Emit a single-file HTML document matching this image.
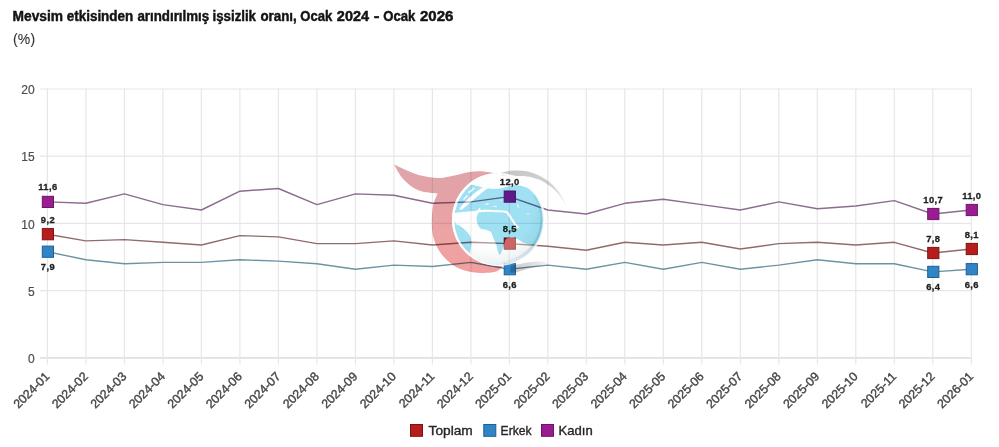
<!DOCTYPE html>
<html><head><meta charset="utf-8"><style>
html,body{margin:0;padding:0;background:#fff;}
body{width:999px;height:447px;overflow:hidden;position:relative;font-family:"Liberation Sans",sans-serif;}
.tt{font-size:14px;font-weight:bold;fill:#141414;stroke:#141414;stroke-width:0.45px;}
.tu{font-size:14px;letter-spacing:0.2px;fill:#333;stroke:#333;stroke-width:0.1px;}
svg{position:absolute;left:0;top:0;}
.yl{font-size:12px;fill:#4d4d4d;stroke:#4d4d4d;stroke-width:0.2px;text-anchor:end;}
.xl{font-size:12.3px;fill:#474747;stroke:#474747;stroke-width:0.4px;}
.dl{font-size:9.4px;letter-spacing:0.4px;font-weight:bold;fill:#1e1e1e;stroke:#1e1e1e;stroke-width:0.3px;}
.lg{font-size:12.2px;fill:#262626;stroke:#262626;stroke-width:0.35px;}
text{font-family:"Liberation Sans",sans-serif;}
</style></head><body>
<svg width="999" height="447" viewBox="0 0 999 447">
<line x1="40" y1="357.9" x2="971.8" y2="357.9" stroke="#e0e0e0" stroke-width="1.6"/>
<text x="34.6" y="363.1" class="yl">0</text>
<line x1="40" y1="290.7" x2="971.8" y2="290.7" stroke="#e7e7e7" stroke-width="1.2"/>
<text x="34.6" y="295.9" class="yl">5</text>
<line x1="40" y1="223.4" x2="971.8" y2="223.4" stroke="#e7e7e7" stroke-width="1.2"/>
<text x="34.6" y="228.6" class="yl">10</text>
<line x1="40" y1="156.2" x2="971.8" y2="156.2" stroke="#e7e7e7" stroke-width="1.2"/>
<text x="34.6" y="161.4" class="yl">15</text>
<line x1="40" y1="89.0" x2="971.8" y2="89.0" stroke="#e7e7e7" stroke-width="1.2"/>
<text x="34.6" y="94.2" class="yl">20</text>
<line x1="47.4" y1="88.5" x2="47.4" y2="364.6" stroke="#e7e7e7" stroke-width="1.2"/>
<text class="xl" text-anchor="end" transform="translate(50.3,377.2) rotate(-45)">2024-01</text>
<line x1="85.9" y1="88.5" x2="85.9" y2="364.6" stroke="#e7e7e7" stroke-width="1.2"/>
<text class="xl" text-anchor="end" transform="translate(88.8,377.2) rotate(-45)">2024-02</text>
<line x1="124.4" y1="88.5" x2="124.4" y2="364.6" stroke="#e7e7e7" stroke-width="1.2"/>
<text class="xl" text-anchor="end" transform="translate(127.3,377.2) rotate(-45)">2024-03</text>
<line x1="162.9" y1="88.5" x2="162.9" y2="364.6" stroke="#e7e7e7" stroke-width="1.2"/>
<text class="xl" text-anchor="end" transform="translate(165.8,377.2) rotate(-45)">2024-04</text>
<line x1="201.4" y1="88.5" x2="201.4" y2="364.6" stroke="#e7e7e7" stroke-width="1.2"/>
<text class="xl" text-anchor="end" transform="translate(204.3,377.2) rotate(-45)">2024-05</text>
<line x1="239.9" y1="88.5" x2="239.9" y2="364.6" stroke="#e7e7e7" stroke-width="1.2"/>
<text class="xl" text-anchor="end" transform="translate(242.8,377.2) rotate(-45)">2024-06</text>
<line x1="278.4" y1="88.5" x2="278.4" y2="364.6" stroke="#e7e7e7" stroke-width="1.2"/>
<text class="xl" text-anchor="end" transform="translate(281.3,377.2) rotate(-45)">2024-07</text>
<line x1="316.9" y1="88.5" x2="316.9" y2="364.6" stroke="#e7e7e7" stroke-width="1.2"/>
<text class="xl" text-anchor="end" transform="translate(319.8,377.2) rotate(-45)">2024-08</text>
<line x1="355.4" y1="88.5" x2="355.4" y2="364.6" stroke="#e7e7e7" stroke-width="1.2"/>
<text class="xl" text-anchor="end" transform="translate(358.3,377.2) rotate(-45)">2024-09</text>
<line x1="393.9" y1="88.5" x2="393.9" y2="364.6" stroke="#e7e7e7" stroke-width="1.2"/>
<text class="xl" text-anchor="end" transform="translate(396.8,377.2) rotate(-45)">2024-10</text>
<line x1="432.4" y1="88.5" x2="432.4" y2="364.6" stroke="#e7e7e7" stroke-width="1.2"/>
<text class="xl" text-anchor="end" transform="translate(435.3,377.2) rotate(-45)">2024-11</text>
<line x1="470.9" y1="88.5" x2="470.9" y2="364.6" stroke="#e7e7e7" stroke-width="1.2"/>
<text class="xl" text-anchor="end" transform="translate(473.8,377.2) rotate(-45)">2024-12</text>
<line x1="509.3" y1="88.5" x2="509.3" y2="364.6" stroke="#e7e7e7" stroke-width="1.2"/>
<text class="xl" text-anchor="end" transform="translate(512.2,377.2) rotate(-45)">2025-01</text>
<line x1="547.8" y1="88.5" x2="547.8" y2="364.6" stroke="#e7e7e7" stroke-width="1.2"/>
<text class="xl" text-anchor="end" transform="translate(550.7,377.2) rotate(-45)">2025-02</text>
<line x1="586.3" y1="88.5" x2="586.3" y2="364.6" stroke="#e7e7e7" stroke-width="1.2"/>
<text class="xl" text-anchor="end" transform="translate(589.2,377.2) rotate(-45)">2025-03</text>
<line x1="624.8" y1="88.5" x2="624.8" y2="364.6" stroke="#e7e7e7" stroke-width="1.2"/>
<text class="xl" text-anchor="end" transform="translate(627.7,377.2) rotate(-45)">2025-04</text>
<line x1="663.3" y1="88.5" x2="663.3" y2="364.6" stroke="#e7e7e7" stroke-width="1.2"/>
<text class="xl" text-anchor="end" transform="translate(666.2,377.2) rotate(-45)">2025-05</text>
<line x1="701.8" y1="88.5" x2="701.8" y2="364.6" stroke="#e7e7e7" stroke-width="1.2"/>
<text class="xl" text-anchor="end" transform="translate(704.7,377.2) rotate(-45)">2025-06</text>
<line x1="740.3" y1="88.5" x2="740.3" y2="364.6" stroke="#e7e7e7" stroke-width="1.2"/>
<text class="xl" text-anchor="end" transform="translate(743.2,377.2) rotate(-45)">2025-07</text>
<line x1="778.8" y1="88.5" x2="778.8" y2="364.6" stroke="#e7e7e7" stroke-width="1.2"/>
<text class="xl" text-anchor="end" transform="translate(781.7,377.2) rotate(-45)">2025-08</text>
<line x1="817.3" y1="88.5" x2="817.3" y2="364.6" stroke="#e7e7e7" stroke-width="1.2"/>
<text class="xl" text-anchor="end" transform="translate(820.2,377.2) rotate(-45)">2025-09</text>
<line x1="855.8" y1="88.5" x2="855.8" y2="364.6" stroke="#e7e7e7" stroke-width="1.2"/>
<text class="xl" text-anchor="end" transform="translate(858.7,377.2) rotate(-45)">2025-10</text>
<line x1="894.3" y1="88.5" x2="894.3" y2="364.6" stroke="#e7e7e7" stroke-width="1.2"/>
<text class="xl" text-anchor="end" transform="translate(897.2,377.2) rotate(-45)">2025-11</text>
<line x1="932.8" y1="88.5" x2="932.8" y2="364.6" stroke="#e7e7e7" stroke-width="1.2"/>
<text class="xl" text-anchor="end" transform="translate(935.7,377.2) rotate(-45)">2025-12</text>
<line x1="971.3" y1="88.5" x2="971.3" y2="364.6" stroke="#e7e7e7" stroke-width="1.2"/>
<text class="xl" text-anchor="end" transform="translate(974.2,377.2) rotate(-45)">2026-01</text>
<polyline points="47.4,201.9 85.9,203.3 124.4,193.9 162.9,204.6 201.4,210.0 239.9,191.2 278.4,188.5 316.9,204.6 355.4,193.9 393.9,195.2 432.4,203.3 470.9,201.9 509.3,196.6 547.8,210.0 586.3,214.0 624.8,203.3 663.3,199.2 701.8,204.6 740.3,210.0 778.8,201.9 817.3,208.7 855.8,206.0 894.3,200.6 932.8,214.0 971.3,210.0" fill="none" stroke="#8c6b8f" stroke-width="1.4" stroke-linejoin="round"/>
<polyline points="47.4,234.2 85.9,240.9 124.4,239.6 162.9,242.3 201.4,245.0 239.9,235.6 278.4,236.9 316.9,243.6 355.4,243.6 393.9,240.9 432.4,245.0 470.9,242.3 509.3,243.6 547.8,246.3 586.3,250.3 624.8,242.3 663.3,245.0 701.8,242.3 740.3,249.0 778.8,243.6 817.3,242.3 855.8,245.0 894.3,242.3 932.8,253.0 971.3,249.0" fill="none" stroke="#916b6b" stroke-width="1.4" stroke-linejoin="round"/>
<polyline points="47.4,251.7 85.9,259.8 124.4,263.8 162.9,262.4 201.4,262.4 239.9,259.8 278.4,261.1 316.9,263.8 355.4,269.2 393.9,265.1 432.4,266.5 470.9,262.4 509.3,269.2 547.8,265.1 586.3,269.2 624.8,262.4 663.3,269.2 701.8,262.4 740.3,269.2 778.8,265.1 817.3,259.8 855.8,263.8 894.3,263.8 932.8,271.9 971.3,269.2" fill="none" stroke="#6d93a2" stroke-width="1.4" stroke-linejoin="round"/>
<rect x="42.3" y="196.3" width="11.2" height="11.2" fill="#9a1c92" stroke="#6e1468" stroke-width="1"/>
<rect x="504.2" y="191.0" width="11.2" height="11.2" fill="#9a1c92" stroke="#6e1468" stroke-width="1"/>
<rect x="927.7" y="208.4" width="11.2" height="11.2" fill="#9a1c92" stroke="#6e1468" stroke-width="1"/>
<rect x="966.2" y="204.4" width="11.2" height="11.2" fill="#9a1c92" stroke="#6e1468" stroke-width="1"/>
<rect x="42.3" y="228.6" width="11.2" height="11.2" fill="#b81d1d" stroke="#7e1212" stroke-width="1"/>
<rect x="504.2" y="238.0" width="11.2" height="11.2" fill="#b81d1d" stroke="#7e1212" stroke-width="1"/>
<rect x="927.7" y="247.4" width="11.2" height="11.2" fill="#b81d1d" stroke="#7e1212" stroke-width="1"/>
<rect x="966.2" y="243.4" width="11.2" height="11.2" fill="#b81d1d" stroke="#7e1212" stroke-width="1"/>
<rect x="42.3" y="246.1" width="11.2" height="11.2" fill="#2f85c6" stroke="#1f5f92" stroke-width="1"/>
<rect x="504.2" y="263.6" width="11.2" height="11.2" fill="#2f85c6" stroke="#1f5f92" stroke-width="1"/>
<rect x="927.7" y="266.3" width="11.2" height="11.2" fill="#2f85c6" stroke="#1f5f92" stroke-width="1"/>
<rect x="966.2" y="263.6" width="11.2" height="11.2" fill="#2f85c6" stroke="#1f5f92" stroke-width="1"/>

<defs>
 <linearGradient id="rg" x1="0" y1="0" x2="0" y2="1">
  <stop offset="0" stop-color="#dfa5a9"/>
  <stop offset="0.3" stop-color="#e3a2a6"/>
  <stop offset="0.62" stop-color="#eca4a4"/>
  <stop offset="1" stop-color="#f29f9f"/>
 </linearGradient>
 <linearGradient id="gg" x1="0" y1="0" x2="1" y2="1">
  <stop offset="0" stop-color="#c6c6c6"/>
  <stop offset="0.5" stop-color="#cfcfcf"/>
  <stop offset="1" stop-color="#f0f0f0"/>
 </linearGradient>
 <linearGradient id="gs" x1="0" y1="0" x2="1" y2="0">
  <stop offset="0" stop-color="#cacaca"/>
  <stop offset="0.5" stop-color="#dadada"/>
  <stop offset="1" stop-color="#f6f6f6"/>
 </linearGradient>
 <radialGradient id="gl" cx="0.4" cy="0.36" r="0.68">
  <stop offset="0" stop-color="#ffffff"/>
  <stop offset="0.7" stop-color="#fdfdfd"/>
  <stop offset="0.9" stop-color="#f1f3f4"/>
  <stop offset="1" stop-color="#dde3e6"/>
 </radialGradient>
 <linearGradient id="rimg" gradientUnits="userSpaceOnUse" x1="545" y1="195" x2="500" y2="265">
  <stop offset="0" stop-color="#ffffff"/>
  <stop offset="0.3" stop-color="#c6ebf6"/>
  <stop offset="0.6" stop-color="#d3eef6"/>
  <stop offset="1" stop-color="#ffffff"/>
 </linearGradient>
 <clipPath id="gc"><circle cx="498.5" cy="219.5" r="45.5"/></clipPath>
 <mask id="lm" maskUnits="userSpaceOnUse" x="440" y="160" width="120" height="120">
  <circle cx="498.5" cy="219.5" r="44.3" fill="#fff"/>
  <g fill="#000">
   <path d="M445.0,172.0 C446.7,173.6 459.5,186.8 462.0,188.0 C464.5,189.2 468.2,184.6 470.0,184.5 C471.8,184.4 478.0,186.4 480.0,186.8 C482.0,187.2 488.0,188.6 490.0,188.8 C492.0,189.0 498.0,188.9 500.0,188.6 C502.0,188.3 508.3,186.4 510.0,186.0 C511.7,185.6 515.2,184.8 517.0,185.0 C518.8,185.2 526.1,187.2 528.0,188.3 C529.9,189.4 534.6,194.7 536.0,196.3 C537.4,197.9 539.1,203.7 541.5,204.5 C543.9,205.3 558.1,208.4 560.0,204.0 C561.9,199.6 571.5,164.4 560.0,160.0 C548.5,155.6 456.5,158.8 445.0,160.0 C433.5,161.2 445.0,170.8 445.0,172.0 Z"/>
   <path d="M489.0,183.8 C488.5,184.1 485.3,185.7 484.0,186.5 C482.7,187.3 477.5,190.8 476.0,192.0 C474.5,193.2 470.3,196.8 469.0,198.0 C467.7,199.2 463.9,202.9 463.0,204.0 C462.1,205.1 459.6,208.2 459.5,208.8 C459.4,209.4 460.9,210.2 461.5,210.0 C462.1,209.8 464.9,207.2 466.0,206.3 C467.1,205.4 470.8,202.0 472.0,201.0 C473.2,200.0 476.7,197.1 478.0,196.0 C479.3,194.9 483.7,191.3 485.0,190.3 C486.3,189.3 490.6,186.7 491.0,186.0 C491.4,185.3 489.2,184.0 489.0,183.8 Z"/>
   <path d="M452.0,214.0 C452.6,213.8 456.7,212.7 458.0,212.5 C459.3,212.3 463.6,211.9 465.0,211.8 C466.4,211.7 470.8,211.4 472.0,211.3 C473.2,211.2 476.2,210.8 477.0,210.5 C477.8,210.2 479.1,208.0 479.5,208.0 C479.9,208.0 481.1,210.2 481.0,210.8 C480.9,211.4 478.4,212.8 478.0,213.5 C477.6,214.2 476.6,216.9 476.5,218.0 C476.4,219.1 477.1,222.9 477.5,224.0 C477.9,225.1 479.6,227.9 480.5,228.5 C481.4,229.1 484.9,229.5 486.0,229.8 C487.1,230.2 490.2,231.1 491.0,232.0 C491.8,232.9 493.1,237.3 493.6,238.5 C494.1,239.7 495.6,242.8 496.0,244.0 C496.4,245.2 497.2,248.9 497.5,250.0 C497.8,251.1 498.8,253.0 499.0,255.0 C499.2,257.0 504.9,268.5 500.0,270.0 C495.1,271.5 454.8,275.6 450.0,270.0 C445.2,264.4 451.8,219.6 452.0,214.0 Z"/>
   <path d="M479.0,209.9 C479.9,209.9 486.3,209.7 488.0,209.7 C489.7,209.7 494.4,210.2 496.0,210.3 C497.6,210.4 502.8,210.4 504.0,210.6 C505.2,210.8 507.3,211.3 508.0,211.8 C508.7,212.3 510.1,214.4 510.6,215.2 C511.1,216.0 512.6,218.7 513.2,219.6 C513.8,220.5 515.6,223.2 516.2,224.0 C516.8,224.8 519.1,226.8 519.3,227.2 C519.5,227.6 518.8,228.6 518.3,228.4 C517.8,228.2 515.3,226.2 514.6,225.4 C513.9,224.6 512.2,221.7 511.6,220.8 C511.0,219.9 509.2,217.1 508.6,216.3 C508.0,215.5 506.5,213.2 505.2,212.8 C503.9,212.4 497.7,212.3 496.0,212.2 C494.3,212.1 489.6,211.8 488.0,211.8 C486.4,211.8 480.9,212.4 480.0,212.2 C479.1,212.0 479.1,210.1 479.0,209.9 Z"/>
   <path d="M499.0,255.0 C499.2,254.8 500.6,254.4 501.0,253.5 C501.4,252.6 503.0,247.4 503.5,246.0 C504.0,244.6 505.1,239.9 506.0,239.0 C506.9,238.1 510.8,237.3 512.0,237.3 C513.2,237.3 516.8,238.7 518.0,239.3 C519.2,239.9 522.4,242.4 524.0,243.0 C525.6,243.6 532.2,245.1 534.0,245.0 C535.8,244.9 540.4,243.2 542.0,242.5 C543.6,241.8 549.2,234.8 550.0,238.0 C550.8,241.2 555.5,271.3 550.0,275.0 C544.5,278.7 500.1,277.0 495.0,275.0 C489.9,273.0 498.6,257.0 499.0,255.0 Z"/>
   <path d="M468,192 L474,187.5 L475,188.5 L469,193.5 Z"/>
   <path d="M463,199 L467,195 L468,196 L464,200 Z"/>
  </g>
  <g fill="#fff">
   <path d="M453.5,217.0 C453.8,218.1 454.6,222.1 455.5,223.5 C456.4,224.9 457.7,224.7 459.0,225.5 C460.3,226.3 462.1,227.3 463.5,228.5 C464.9,229.7 466.3,231.0 467.5,232.5 C468.7,234.0 470.0,235.6 470.7,237.4 C471.4,239.2 471.5,241.5 471.5,243.5 C471.5,245.5 470.9,247.8 470.5,249.5 C470.1,251.2 469.8,253.7 469.0,254.0 C468.2,254.3 466.8,252.8 465.5,251.5 C464.2,250.2 462.8,247.9 461.5,246.0 C460.2,244.1 459.0,242.0 458.0,240.0 C457.0,238.0 456.2,236.3 455.5,234.0 C454.8,231.7 453.8,228.8 453.5,226.0 C453.2,223.2 453.5,218.5 453.5,217.0 Z"/>
  </g>
  <g fill="#000" opacity="0.8">
   <ellipse cx="487" cy="204" rx="2" ry="0.7" transform="rotate(-20 487 204)"/>
   <ellipse cx="495" cy="206.5" rx="2.3" ry="0.6"/>
   <ellipse cx="501" cy="200" rx="1.2" ry="0.6"/>
   <ellipse cx="518" cy="206" rx="0.7" ry="2" transform="rotate(-20 518 206)"/>
   <ellipse cx="528" cy="214" rx="1.5" ry="0.6"/>
  </g>
 </mask>
 <mask id="om" maskUnits="userSpaceOnUse" x="440" y="160" width="120" height="120">
  
  <g fill="#fff">
   <path d="M445.0,172.0 C446.7,173.6 459.5,186.8 462.0,188.0 C464.5,189.2 468.2,184.6 470.0,184.5 C471.8,184.4 478.0,186.4 480.0,186.8 C482.0,187.2 488.0,188.6 490.0,188.8 C492.0,189.0 498.0,188.9 500.0,188.6 C502.0,188.3 508.3,186.4 510.0,186.0 C511.7,185.6 515.2,184.8 517.0,185.0 C518.8,185.2 526.1,187.2 528.0,188.3 C529.9,189.4 534.6,194.7 536.0,196.3 C537.4,197.9 539.1,203.7 541.5,204.5 C543.9,205.3 558.1,208.4 560.0,204.0 C561.9,199.6 571.5,164.4 560.0,160.0 C548.5,155.6 456.5,158.8 445.0,160.0 C433.5,161.2 445.0,170.8 445.0,172.0 Z"/>
   <path d="M489.0,183.8 C488.5,184.1 485.3,185.7 484.0,186.5 C482.7,187.3 477.5,190.8 476.0,192.0 C474.5,193.2 470.3,196.8 469.0,198.0 C467.7,199.2 463.9,202.9 463.0,204.0 C462.1,205.1 459.6,208.2 459.5,208.8 C459.4,209.4 460.9,210.2 461.5,210.0 C462.1,209.8 464.9,207.2 466.0,206.3 C467.1,205.4 470.8,202.0 472.0,201.0 C473.2,200.0 476.7,197.1 478.0,196.0 C479.3,194.9 483.7,191.3 485.0,190.3 C486.3,189.3 490.6,186.7 491.0,186.0 C491.4,185.3 489.2,184.0 489.0,183.8 Z"/>
   <path d="M452.0,214.0 C452.6,213.8 456.7,212.7 458.0,212.5 C459.3,212.3 463.6,211.9 465.0,211.8 C466.4,211.7 470.8,211.4 472.0,211.3 C473.2,211.2 476.2,210.8 477.0,210.5 C477.8,210.2 479.1,208.0 479.5,208.0 C479.9,208.0 481.1,210.2 481.0,210.8 C480.9,211.4 478.4,212.8 478.0,213.5 C477.6,214.2 476.6,216.9 476.5,218.0 C476.4,219.1 477.1,222.9 477.5,224.0 C477.9,225.1 479.6,227.9 480.5,228.5 C481.4,229.1 484.9,229.5 486.0,229.8 C487.1,230.2 490.2,231.1 491.0,232.0 C491.8,232.9 493.1,237.3 493.6,238.5 C494.1,239.7 495.6,242.8 496.0,244.0 C496.4,245.2 497.2,248.9 497.5,250.0 C497.8,251.1 498.8,253.0 499.0,255.0 C499.2,257.0 504.9,268.5 500.0,270.0 C495.1,271.5 454.8,275.6 450.0,270.0 C445.2,264.4 451.8,219.6 452.0,214.0 Z"/>
   <path d="M479.0,209.9 C479.9,209.9 486.3,209.7 488.0,209.7 C489.7,209.7 494.4,210.2 496.0,210.3 C497.6,210.4 502.8,210.4 504.0,210.6 C505.2,210.8 507.3,211.3 508.0,211.8 C508.7,212.3 510.1,214.4 510.6,215.2 C511.1,216.0 512.6,218.7 513.2,219.6 C513.8,220.5 515.6,223.2 516.2,224.0 C516.8,224.8 519.1,226.8 519.3,227.2 C519.5,227.6 518.8,228.6 518.3,228.4 C517.8,228.2 515.3,226.2 514.6,225.4 C513.9,224.6 512.2,221.7 511.6,220.8 C511.0,219.9 509.2,217.1 508.6,216.3 C508.0,215.5 506.5,213.2 505.2,212.8 C503.9,212.4 497.7,212.3 496.0,212.2 C494.3,212.1 489.6,211.8 488.0,211.8 C486.4,211.8 480.9,212.4 480.0,212.2 C479.1,212.0 479.1,210.1 479.0,209.9 Z"/>
   <path d="M499.0,255.0 C499.2,254.8 500.6,254.4 501.0,253.5 C501.4,252.6 503.0,247.4 503.5,246.0 C504.0,244.6 505.1,239.9 506.0,239.0 C506.9,238.1 510.8,237.3 512.0,237.3 C513.2,237.3 516.8,238.7 518.0,239.3 C519.2,239.9 522.4,242.4 524.0,243.0 C525.6,243.6 532.2,245.1 534.0,245.0 C535.8,244.9 540.4,243.2 542.0,242.5 C543.6,241.8 549.2,234.8 550.0,238.0 C550.8,241.2 555.5,271.3 550.0,275.0 C544.5,278.7 500.1,277.0 495.0,275.0 C489.9,273.0 498.6,257.0 499.0,255.0 Z"/>
   <path d="M468,192 L474,187.5 L475,188.5 L469,193.5 Z"/>
   <path d="M463,199 L467,195 L468,196 L464,200 Z"/>
  </g>
  <g fill="#000">
   <path d="M453.5,217.0 C453.8,218.1 454.6,222.1 455.5,223.5 C456.4,224.9 457.7,224.7 459.0,225.5 C460.3,226.3 462.1,227.3 463.5,228.5 C464.9,229.7 466.3,231.0 467.5,232.5 C468.7,234.0 470.0,235.6 470.7,237.4 C471.4,239.2 471.5,241.5 471.5,243.5 C471.5,245.5 470.9,247.8 470.5,249.5 C470.1,251.2 469.8,253.7 469.0,254.0 C468.2,254.3 466.8,252.8 465.5,251.5 C464.2,250.2 462.8,247.9 461.5,246.0 C460.2,244.1 459.0,242.0 458.0,240.0 C457.0,238.0 456.2,236.3 455.5,234.0 C454.8,231.7 453.8,228.8 453.5,226.0 C453.2,223.2 453.5,218.5 453.5,217.0 Z"/>
  </g>
  <g fill="#fff" opacity="0.8">
   <ellipse cx="487" cy="204" rx="2" ry="0.7" transform="rotate(-20 487 204)"/>
   <ellipse cx="495" cy="206.5" rx="2.3" ry="0.6"/>
   <ellipse cx="501" cy="200" rx="1.2" ry="0.6"/>
   <ellipse cx="518" cy="206" rx="0.7" ry="2" transform="rotate(-20 518 206)"/>
   <ellipse cx="528" cy="214" rx="1.5" ry="0.6"/>
  </g>
 </mask>
</defs>
<path d="M394.0,164.5 C396.2,165.5 402.9,168.8 407.0,170.5 C411.1,172.2 414.8,173.9 418.6,175.0 C422.4,176.1 426.1,176.8 430.0,177.3 C433.9,177.8 437.5,178.3 442.0,177.9 C446.5,177.5 452.5,176.0 456.8,175.1 C461.1,174.2 464.3,173.0 468.0,172.3 C471.7,171.7 475.3,171.2 479.0,171.2 C482.7,171.2 487.0,171.9 490.0,172.3 C493.0,172.7 495.8,173.6 497.0,173.8 L500.1,172.9 L495.1,173.0 L490.0,173.7 L485.1,174.9 L480.3,176.6 L475.8,178.8 L471.5,181.5 L467.5,184.7 L463.9,188.2 L460.8,192.2 L458.0,196.4 L455.7,201.0 L454.0,205.7 L452.8,210.6 L452.1,215.7 L451.9,220.7 L452.3,225.8 L453.3,230.7 L454.8,235.6 L456.8,240.2 L459.3,244.7 L462.2,248.8 L465.6,252.5 L469.4,255.9 L473.5,258.8 L478.0,261.3 L482.6,263.3 L487.5,264.8 L492.4,265.7 L497.5,266.1 L502.6,265.9 C500.2,270.2 495.8,272.0 491.0,272.4 C486.2,272.8 479.0,273.3 473.0,272.3 C467.0,271.3 460.3,269.5 455.0,266.4 C449.7,263.3 444.6,258.2 441.0,253.5 C437.4,248.8 435.0,243.2 433.5,238.0 C432.0,232.8 431.8,227.5 431.8,222.0 C431.8,216.5 432.3,209.7 433.3,205.0 C434.3,200.3 436.9,195.5 437.6,193.6 C435.4,193.3 428.3,193.0 424.2,192.0 C420.1,191.0 416.7,189.9 413.0,187.5 C409.3,185.1 405.0,181.2 401.8,177.4 C398.6,173.6 395.3,166.7 394.0,164.5 Z" fill="url(#rg)" style="mix-blend-mode:multiply"/>
<path d="M500.7,173.0 L503.3,172.3 L506.0,171.6 L508.7,171.1 L511.4,170.8 L514.1,170.6 L516.8,170.5 L519.5,170.6 L522.2,170.8 L524.9,171.1 L527.6,171.6 L530.3,172.3 L532.9,173.0 L535.4,174.0 L538.0,175.0 L540.4,176.2 L542.8,177.5 L545.1,178.9 L547.4,180.4 L549.5,182.1 L551.6,183.9 L553.6,185.7 L555.4,187.7 L557.2,189.8 L558.9,191.9 L560.4,194.2 L561.8,196.5 L563.1,198.9 L564.3,201.3 L565.3,203.9 L566.3,206.4 L566.3,206.4 L564.9,204.0 L563.6,201.7 L562.2,199.4 L560.7,197.2 L559.1,195.0 L557.4,193.0 L555.6,191.1 L553.7,189.3 L551.8,187.5 L549.7,185.9 L547.6,184.4 L545.5,183.0 L543.3,181.8 L541.0,180.6 L538.7,179.6 L536.3,178.7 L533.9,177.9 L531.5,177.3 L529.1,176.8 L526.6,176.4 L524.1,176.1 L521.7,176.0 L519.2,176.0 L516.8,176.1 L514.3,175.7 L511.9,175.5 L509.3,175.4 L506.8,175.4 L504.2,175.6 L501.7,175.9 Z" fill="url(#gg)" style="mix-blend-mode:multiply"/>
<path d="M511.0,266.0 C512.0,265.8 514.2,265.2 517.0,264.6 C519.8,264.0 524.3,262.9 528.0,262.4 C531.7,261.9 535.5,261.3 539.0,261.4 C542.5,261.5 547.3,262.7 549.0,263.0 C547.3,263.5 542.5,264.8 539.0,265.8 C535.5,266.8 531.7,267.7 528.0,268.8 C524.3,269.9 520.0,271.7 517.0,272.3 C514.0,272.9 511.2,272.5 510.0,272.5 Z" fill="url(#gs)" style="mix-blend-mode:multiply"/>
<circle cx="498.5" cy="219.5" r="45.3" fill="none" stroke="#ffffff" stroke-width="2.2" opacity="0.85"/>
<circle cx="498.5" cy="219.5" r="45.5" fill="#ffffff" opacity="0.32" mask="url(#om)"/>

<text x="47.9" y="190.4" class="dl" text-anchor="middle">11,6</text>
<text x="509.8" y="185.1" class="dl" text-anchor="middle">12,0</text>
<text x="933.3" y="202.5" class="dl" text-anchor="middle">10,7</text>
<text x="971.8" y="198.5" class="dl" text-anchor="middle">11,0</text>
<text x="47.9" y="222.7" class="dl" text-anchor="middle">9,2</text>
<text x="509.8" y="232.1" class="dl" text-anchor="middle">8,5</text>
<text x="933.3" y="241.5" class="dl" text-anchor="middle">7,8</text>
<text x="971.8" y="237.5" class="dl" text-anchor="middle">8,1</text>
<text x="47.9" y="270.2" class="dl" text-anchor="middle">7,9</text>
<text x="509.8" y="287.7" class="dl" text-anchor="middle">6,6</text>
<text x="933.3" y="290.4" class="dl" text-anchor="middle">6,4</text>
<text x="971.8" y="287.7" class="dl" text-anchor="middle">6,6</text>

<circle cx="498.5" cy="219.5" r="45.5" fill="url(#gl)" style="mix-blend-mode:multiply"/>
<circle cx="498.5" cy="219.5" r="44.3" fill="#a0e2f4" mask="url(#lm)" style="mix-blend-mode:multiply"/>
<path d="M533.9,194.7 A43.2,43.2 0 0 1 502.3,262.5" fill="none" stroke="url(#rimg)" stroke-width="2.6" style="mix-blend-mode:multiply"/>


<text x="12.55" y="20.8" class="tt" textLength="50.45" lengthAdjust="spacingAndGlyphs">Mevsim</text>
<text x="66.75" y="20.8" class="tt" textLength="66.47" lengthAdjust="spacingAndGlyphs">etkisinden</text>
<text x="137.45" y="20.8" class="tt" textLength="71.65" lengthAdjust="spacingAndGlyphs">arındırılmış</text>
<text x="212.55" y="20.8" class="tt" textLength="43.42" lengthAdjust="spacingAndGlyphs">işsizlik</text>
<text x="260.45" y="20.8" class="tt" textLength="36.30" lengthAdjust="spacingAndGlyphs">oranı,</text>
<text x="300.25" y="20.8" class="tt" textLength="31.98" lengthAdjust="spacingAndGlyphs">Ocak</text>
<text x="336.85" y="20.8" class="tt" textLength="32.20" lengthAdjust="spacingAndGlyphs">2024</text>
<text x="373.80" y="20.8" class="tt" textLength="5.70" lengthAdjust="spacingAndGlyphs">-</text>
<text x="383.25" y="20.8" class="tt" textLength="32.07" lengthAdjust="spacingAndGlyphs">Ocak</text>
<text x="419.95" y="20.8" class="tt" textLength="33.45" lengthAdjust="spacingAndGlyphs">2026</text>
<text x="13" y="43.6" class="tu">(%)</text>
<rect x="410.5" y="424.5" width="12" height="11.8" fill="#b81d1d" stroke="#7e1212" stroke-width="1"/>
<text x="428.6" y="434.7" class="lg" textLength="44.2" lengthAdjust="spacingAndGlyphs">Toplam</text>
<rect x="483.8" y="424.5" width="12" height="11.8" fill="#2f85c6" stroke="#1f5f92" stroke-width="1"/>
<text x="500.6" y="434.7" class="lg" textLength="31" lengthAdjust="spacingAndGlyphs">Erkek</text>
<rect x="541.5" y="424.5" width="12" height="11.8" fill="#9a1c92" stroke="#6e1468" stroke-width="1"/>
<text x="558.6" y="434.7" class="lg" textLength="34.2" lengthAdjust="spacingAndGlyphs">Kadın</text>
</svg>
</body></html>
